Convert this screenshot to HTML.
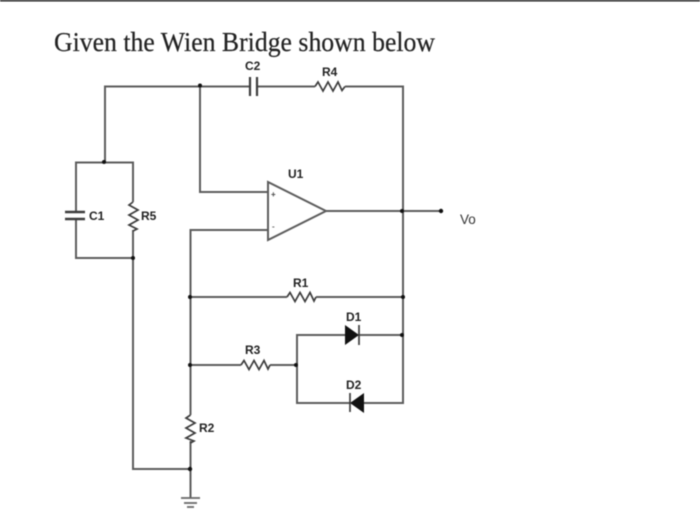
<!DOCTYPE html>
<html><head><meta charset="utf-8"><style>
html,body{margin:0;padding:0;background:#fff;width:700px;height:515px;overflow:hidden}
svg{display:block;filter:blur(.55px)}
.s{font-family:"Liberation Sans",sans-serif;font-size:12px;font-weight:bold;fill:#222}
</style></head><body>
<svg width="700" height="515" viewBox="0 0 700 515" xmlns="http://www.w3.org/2000/svg">
<rect x="0" y="0" width="700" height="1.5" fill="#222"/>
<text x="54" y="51" font-family="'Liberation Serif',serif" font-size="27.5" fill="#222" stroke="#222" stroke-width=".2" textLength="381" lengthAdjust="spacingAndGlyphs">Given the Wien Bridge shown below</text>
<g fill="none" stroke="#5c5c5c" stroke-width="2">
<path d="M105 162V86.500H250M257 86.500H315M345 86.500H403V297"/>
<path d="M76 212V162.500H133V202M76 219V258H133M133 230V469H190"/>
<path d="M200 86.500V192H268M268 230H190.500V415M190.500 441V498"/>
<path d="M268 182V240L326 211ZM326 211H441"/>
<path d="M190 297H287M316 297H403V403H364M350 403H297V335H345M359 335H403"/>
<path d="M190 365H241M270 365H297"/>
</g>
<g fill="none" stroke="#3c3c3c" stroke-width="1.700">
<path d="M250 77V96M257 77V96" stroke-width="2.200"/>
<path d="M315 86.500L318 82L323 91L328 82L333 91L338 82L342 90.500L345 86.500"/>
<path d="M287 297L290 292.500L295 301.500L300 292.500L305 301.500L310 292.500L314 301L316 297"/>
<path d="M241 365L244 360.500L249 369.500L254 360.500L259 369.500L264 360.500L268 369L270 365"/>
<path d="M133 202L129 205L138 210L129 215L138 220L129 225L137 229L133 231"/>
<path d="M190.500 415L186 418L195 423L186 428L195 433L186 438L194 441L190.500 443"/>
<path d="M65 212H85M65 219H85" stroke-width="2.400"/>
<path d="M359 325V345M350 393V412"/>
<path d="M181 498H200M184 503H197M187 507H194" stroke="#666"/>
</g>
<g fill="#111">
<path d="M345 325L359 335L345 345Z"/>
<path d="M364 393L350 403L364 413Z"/>
<circle cx="200" cy="85.500" r="2"/><circle cx="104" cy="162" r="2"/><circle cx="133" cy="258" r="2"/>
<circle cx="190" cy="469" r="2.200"/><circle cx="402" cy="211" r="2"/><circle cx="441" cy="211" r="2.200"/>
<circle cx="190" cy="297" r="2"/><circle cx="403" cy="297" r="2"/><circle cx="190" cy="365" r="2"/>
<circle cx="296" cy="365" r="2"/><circle cx="402" cy="335" r="2"/>
</g>
<text class="s" x="245" y="70">C2</text>
<text class="s" x="322" y="76">R4</text>
<text class="s" x="288" y="178">U1</text>
<text class="s" x="89" y="220">C1</text>
<text class="s" x="141" y="220">R5</text>
<text class="s" x="293" y="287">R1</text>
<text class="s" x="346" y="321">D1</text>
<text class="s" x="346" y="389">D2</text>
<text class="s" x="245" y="354">R3</text>
<text class="s" x="199" y="432">R2</text>
<text x="460" y="224" font-family="'Liberation Sans',sans-serif" font-size="13.500" fill="#333">Vo</text>
<text x="271" y="197" font-family="'Liberation Sans',sans-serif" font-size="8" font-weight="bold" fill="#444">+</text>
<text x="272" y="229" font-family="'Liberation Sans',sans-serif" font-size="8" font-weight="bold" fill="#666">-</text>
</svg>
</body></html>
